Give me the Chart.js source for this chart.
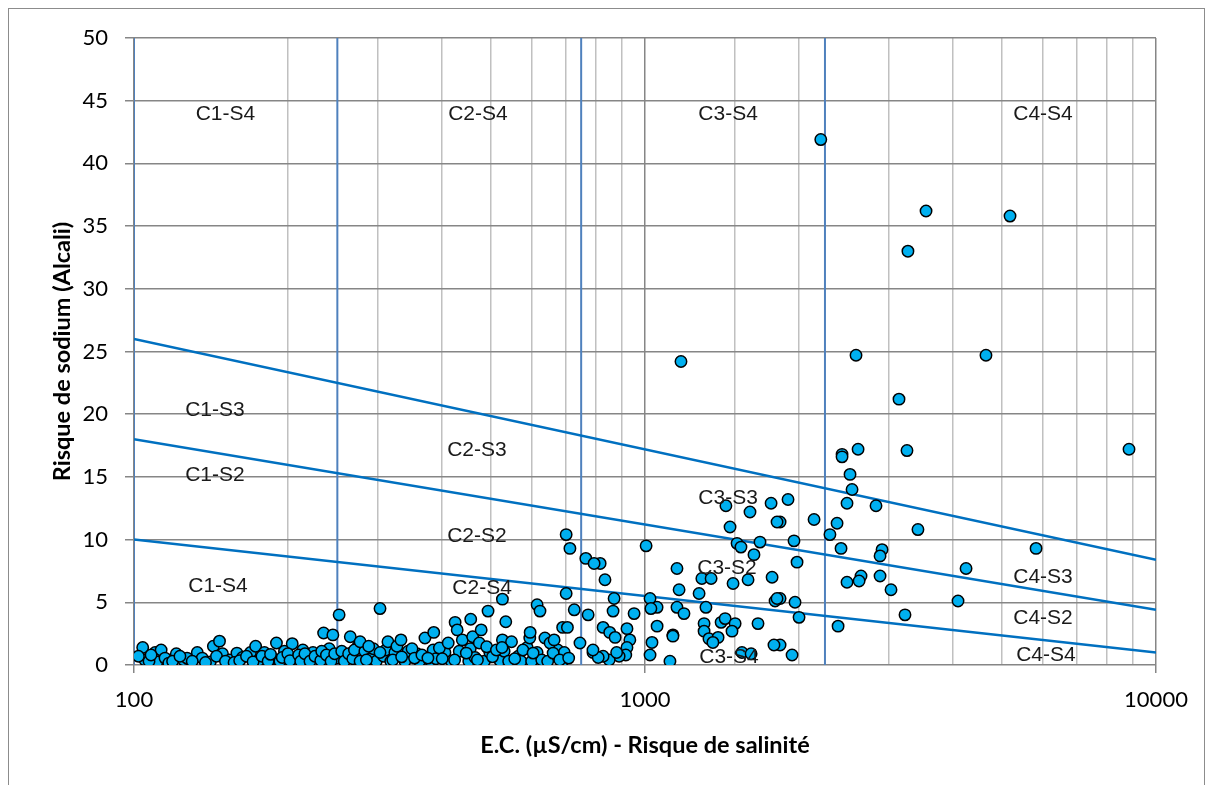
<!DOCTYPE html>
<html>
<head>
<meta charset="utf-8">
<script src="https://cdn.jsdelivr.net/npm/chart.js@4.4.0/dist/chart.umd.min.js"></script>
<style>
    html, body { margin: 0; padding: 0; background: #fff; }
    #wrap { position: relative; width: 1214px; height: 785px; overflow: hidden; }
    #frame { position: absolute; left: 8px; top: 8px; width: 1197px; height: 800px; border: 1.5px solid #8c8c8c; box-sizing: border-box; }
    canvas { position: absolute; left: 0; top: 0; }
</style>
</head>
<body>
<div id="wrap">
    <div id="frame"></div>
    <canvas id="wilcox-chart" width="1214" height="785"></canvas>
</div>
<script>
// salinity class limits (E.C., µS/cm)
const salinityLimits = [100, 250, 750, 2250];

// sodium hazard boundaries: SAR at E.C. = 100 and at E.C. = 10000
const sodiumAt100 = [10, 18, 26];
const sodiumAt10000 = [1.0, 4.4, 8.4];

// y ticks
const sarTicks = [0, 5, 10, 15, 20, 25, 30, 35, 40, 45, 50];

// zone labels
const zoneNames = ['C1-S4', 'C2-S4', 'C3-S4', 'C4-S4', 'C1-S3', 'C2-S3', 'C1-S2', 'C3-S3', 'C2-S2',
    'C1-S4', 'C2-S4', 'C3-S2', 'C4-S3', 'C4-S2', 'C3-S4', 'C4-S4'];
const zoneEC = [151, 471, 1454, 6010, 144, 469, 144, 1454, 469, 146, 480, 1447, 6010, 6010, 1460, 6090];
const zoneSAR = [43.9, 43.9, 43.9, 43.9, 20.3, 17.1, 15.1, 13.3, 10.3, 6.3, 6.1, 7.7, 7.0, 3.7, 0.6, 0.8];

// water samples [E.C., SAR]
const samples = [
    // high salinity / high sodium
    [2208, 41.9], [3548, 36.2], [5180, 35.8], [3270, 33.0], [2588, 24.7], [1176, 24.2], [4648, 24.7],
    [3141, 21.2], [8855, 17.2], [3256, 17.1], [2612, 17.2], [2430, 16.8], [2430, 16.6], [2519, 15.2],
    [2542, 14.0], [2485, 12.9], [2832, 12.7], [1905, 13.2], [1838, 11.4], [2142, 11.6], [2376, 11.3],
    [2301, 10.4], [3421, 10.8], [1957, 9.9], [2419, 9.3], [2910, 9.2], [2884, 8.7], [5825, 9.3],
    [1984, 8.2], [4249, 7.7], [2647, 7.1], [2624, 6.7], [2485, 6.6], [2884, 7.1], [3030, 6.0],
    [1838, 5.3], [1966, 5.0], [4098, 5.1], [2002, 3.8], [3227, 4.0], [2387, 3.1], [1940, 0.8], [1838, 1.6],
    // 1000 - 2000
    [1440, 12.7], [1605, 12.2], [1765, 12.9], [1813, 11.4], [1467, 11.0], [1514, 9.7], [1541, 9.4],
    [1679, 9.8], [1634, 8.8], [1005, 9.5], [1155, 7.7], [1292, 6.9], [1347, 6.9], [1487, 6.5],
    [1591, 6.8], [1773, 7.0], [1166, 6.0], [1276, 5.7], [1023, 5.3], [1056, 4.6], [1027, 4.5],
    [1155, 4.6], [1192, 4.1], [1316, 4.6], [1797, 5.1], [1813, 5.3], [1056, 3.1], [1134, 2.4],
    [1134, 2.3], [1305, 3.3], [1305, 2.7], [1409, 3.4], [1435, 3.7], [1501, 3.3], [1480, 2.7],
    [1664, 3.3], [1334, 2.1], [1390, 2.2], [1358, 1.8], [1032, 1.8], [1788, 1.6], [1023, 0.8],
    [1119, 0.3], [1548, 1.0], [1613, 0.9],
    // 700 - 1000
    [870, 5.3], [866, 4.3], [952, 4.1], [835, 6.8], [817, 8.1], [766, 8.5], [795, 8.1], [774, 4.0],
    [922, 2.9], [934, 2.0], [922, 1.4], [917, 0.8], [890, 0.7], [851, 0.4], [828, 0.7], [828, 3.0],
    [853, 2.6], [874, 2.2], [791, 1.0], [810, 0.6], [880, 1.0], [791, 1.2], [701, 10.4], [713, 9.3],
    // 100 - 280
    [104, 1.4], [105, 0.4], [110, 1.0], [111, 0.25], [113, 1.2], [115, 0.55], [117, 0.15], [121, 0.9],
    [125, 0.4], [127, 0.55], [133, 1.0], [136, 0.55], [143, 1.5], [147, 1.9], [141, 0.25], [149, 0.9],
    [154, 0.4], [159, 0.95], [163, 0.6], [169, 1.0], [173, 1.5], [176, 0.4], [180, 1.0], [187, 0.5],
    [190, 1.75], [197, 1.1], [204, 1.7], [207, 0.55], [214, 1.2], [218, 0.55], [224, 1.0], [229, 0.55],
    [235, 2.55], [245, 2.4], [241, 1.3], [252, 4.0], [250, 0.55], [261, 0.55], [265, 2.25], [274, 1.45],
    [280, 0.8],
    [102, 0.7], [107, 0.3], [108, 0.8], [119, 0.3], [123, 0.7], [130, 0.3], [138, 0.2], [145, 0.7],
    [151, 0.3], [157, 0.2], [161, 0.35], [166, 0.7], [171, 0.25], [178, 0.7], [183, 0.3], [185, 0.85],
    [193, 0.3], [195, 0.6], [200, 0.9], [202, 0.35], [210, 0.8], [212, 0.3], [216, 0.9], [221, 0.3],
    [226, 0.7], [232, 0.35], [233, 1.1], [238, 0.8], [243, 0.3], [247, 0.9], [255, 1.1], [258, 0.3],
    [263, 0.9], [268, 0.5], [270, 1.2], [277, 0.3],
    // 280 - 750
    [283, 1.1], [290, 0.5], [294, 1.3], [298, 0.3], [308, 0.7], [311, 1.2], [318, 0.3], [324, 1.0],
    [339, 0.3], [344, 1.1], [358, 0.9], [362, 0.3], [380, 0.35], [385, 1.2], [390, 0.5], [406, 1.0],
    [418, 0.3], [433, 1.1], [452, 0.3], [455, 1.3], [465, 0.6], [485, 0.3], [497, 1.0], [520, 0.35],
    [530, 1.1], [541, 0.3], [565, 0.7], [572, 0.3], [588, 1.4], [600, 0.3], [615, 1.0], [628, 0.4],
    [645, 0.3], [668, 0.9], [675, 1.2], [690, 0.3], [695, 1.0],
    [277, 1.85], [288, 1.5], [285, 0.4], [303, 1.0], [314, 1.85], [321, 0.4], [327, 1.5], [333, 2.0],
    [334, 0.65], [350, 1.3], [354, 0.55], [366, 0.8], [371, 2.15], [376, 0.55], [386, 2.6], [396, 1.35],
    [401, 0.5], [412, 1.75], [424, 0.4], [425, 3.4], [429, 2.8], [439, 2.0], [447, 0.95], [456, 3.65],
    [460, 2.25], [474, 1.75], [470, 0.4], [478, 2.8], [490, 1.45], [493, 4.3], [503, 0.65], [512, 1.2],
    [526, 5.25], [534, 3.45], [526, 2.0], [548, 1.85], [556, 0.5], [577, 1.2], [595, 2.15], [596, 2.6],
    [604, 0.95], [615, 4.8], [623, 4.3], [637, 2.15], [652, 1.75], [661, 0.95], [664, 2.0], [525, 1.4],
    [681, 0.4], [690, 3.0], [705, 3.0], [701, 5.7], [709, 0.55], [727, 4.4], [746, 1.75], [303, 4.5]
];

document.addEventListener('DOMContentLoaded', function() {
    initWilcoxChart();
});

function isDecade(value) {
    const l = Math.log10(value);
    return Math.abs(l - Math.round(l)) < 1e-9;
}

const zoneLabelPlugin = {
    id: 'zoneLabels',
    afterDatasetsDraw(chart) {
        const ctx = chart.ctx;
        const xs = chart.scales.x;
        const ys = chart.scales.y;
        ctx.save();
        ctx.font = '21px "Liberation Sans", Arial, sans-serif';
        ctx.fillStyle = '#1a1a1a';
        ctx.textAlign = 'center';
        ctx.textBaseline = 'middle';
        zoneNames.forEach((name, i) => {
            ctx.fillText(name, xs.getPixelForValue(zoneEC[i]), ys.getPixelForValue(zoneSAR[i]));
        });
        ctx.restore();
    }
};

function initWilcoxChart() {
    const canvas = document.getElementById('wilcox-chart');
    if (!canvas) return;
    const ctx = canvas.getContext('2d');

    const datasets = [
        {
            type: 'scatter',
            label: 'Echantillons',
            data: samples.map(s => ({ x: s[0], y: s[1] })),
            backgroundColor: '#00b0f0',
            borderColor: '#000000',
            borderWidth: 1.5,
            pointRadius: 5.7,
            order: 0
        }
    ];

    salinityLimits.forEach(ec => {
        datasets.push({
            type: 'line',
            label: 'EC ' + ec,
            data: [{ x: ec, y: 0 }, { x: ec, y: 50 }],
            borderColor: '#4f81bd',
            borderWidth: 2,
            pointRadius: 0,
            order: 2
        });
    });

    sodiumAt100.forEach((sar, i) => {
        datasets.push({
            type: 'line',
            label: 'SAR ' + i,
            data: [{ x: 100, y: sar }, { x: 10000, y: sodiumAt10000[i] }],
            borderColor: '#0070c0',
            borderWidth: 2.5,
            pointRadius: 0,
            order: 1
        });
    });

    new Chart(ctx, {
        type: 'scatter',
        data: { datasets: datasets },
        options: {
            responsive: false,
            animation: false,
            layout: {
                padding: { top: 38, right: 58, left: 0, bottom: 0 }
            },
            scales: {
                x: {
                    type: 'logarithmic',
                    min: 100,
                    max: 10000,
                    afterFit: function(scale) { scale.height = 120; },
                    border: { display: false },
                    grid: {
                        color: function(c) {
                            return c.tick && isDecade(c.tick.value) ? '#868686' : '#c0c0c0';
                        },
                        lineWidth: 1.5,
                        tickLength: 8,
                        tickColor: function(c) {
                            return c.tick && isDecade(c.tick.value) ? '#868686' : 'rgba(0,0,0,0)';
                        }
                    },
                    ticks: {
                        autoSkip: false,
                        maxRotation: 0,
                        padding: 14,
                        color: '#000',
                        font: { family: 'Lato, "Open Sans", sans-serif', size: 22 },
                        callback: function(value) {
                            return isDecade(value) ? String(Math.round(value)) : '';
                        }
                    },
                    title: {
                        display: true,
                        text: 'E.C. (\u00b5S/cm) - Risque de salinit\u00e9',
                        color: '#000',
                        font: { family: 'Lato, "Open Sans", sans-serif', size: 23.5, weight: 'bold' },
                        padding: { top: 0, bottom: 25 }
                    }
                },
                y: {
                    min: 0,
                    max: 50,
                    afterFit: function(scale) { scale.width = 134; },
                    afterBuildTicks: function(scale) {
                        scale.ticks = sarTicks.map(v => ({ value: v }));
                    },
                    border: { display: false },
                    grid: {
                        color: '#868686',
                        lineWidth: 1.5,
                        tickLength: 9,
                        tickColor: '#868686'
                    },
                    ticks: {
                        padding: 17,
                        color: '#000',
                        font: { family: 'Lato, "Open Sans", sans-serif', size: 22 }
                    },
                    title: {
                        display: true,
                        text: 'Risque de sodium (Alcali)',
                        color: '#000',
                        font: { family: 'Lato, "Open Sans", sans-serif', size: 23.5, weight: 'bold' },
                        padding: { top: 48, bottom: 0 }
                    }
                }
            },
            plugins: {
                legend: { display: false },
                tooltip: { enabled: false }
            }
        },
        plugins: [zoneLabelPlugin]
    });
}
</script>
</body>
</html>
